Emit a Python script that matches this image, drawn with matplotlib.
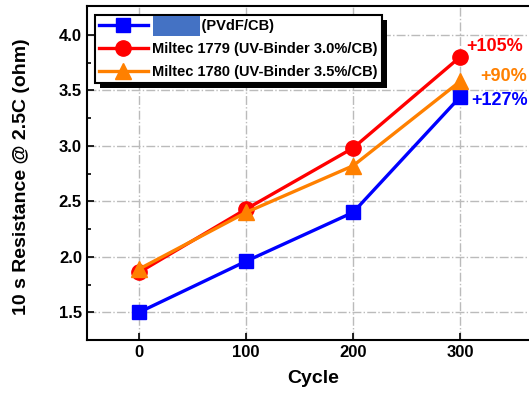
import matplotlib
matplotlib.use("Agg")
import matplotlib.pyplot as plt
from matplotlib.patches import Rectangle

plt.rcParams["font.family"] = ["Liberation Sans", "DejaVu Sans"]
plt.rcParams["font.weight"] = "bold"

cycles = [0, 100, 200, 300]
pvdf = [1.50, 1.96, 2.40, 3.44]
miltec_1779 = [1.86, 2.43, 2.98, 3.80]
miltec_1780 = [1.89, 2.40, 2.82, 3.58]

labels = ["(PVdF/CB)",
          "Miltec 1779 (UV-Binder 3.0%/CB)",
          "Miltec 1780 (UV-Binder 3.5%/CB)"]
increase = ["+127%", "+105%", "+90%"]

blue = "#0000FF"
red = "#FF0000"
orange = "#FF8000"

fig = plt.figure(figsize=(5.29, 3.94), dpi=100)
ax = fig.add_axes([0.164, 0.137, 0.908, 0.848])

ax.plot(cycles, pvdf, color=blue, marker="s", ms=10, lw=2.4,
        label="            " + labels[0])
ax.plot(cycles, miltec_1779, color=red, marker="o", ms=11, lw=2.4, label=labels[1])
ax.plot(cycles, miltec_1780, color=orange, marker="^", ms=11, lw=2.4, label=labels[2])

ax.text(306, 3.89, increase[1], color=red, fontsize=13, fontweight="bold", va="center")
ax.text(319, 3.62, increase[2], color=orange, fontsize=13, fontweight="bold", va="center")
ax.text(310, 3.41, increase[0], color=blue, fontsize=13, fontweight="bold", va="center")

ax.set_xlim(-49, 400)
ax.set_ylim(1.25, 4.26)
ax.set_xticks(cycles)
ax.set_yticks([1.5, 2.0, 2.5, 3.0, 3.5, 4.0])
ax.set_yticks([1.75, 2.25, 2.75, 3.25, 3.75], minor=True)
ax.tick_params(axis="both", which="both", direction="in", labelsize=12, width=1.2)
ax.tick_params(which="major", length=5)
ax.tick_params(which="minor", length=3)
for lab in ax.get_xticklabels() + ax.get_yticklabels():
    lab.set_fontweight("bold")

ax.grid(True, linestyle="-.", color="#BBBBBB", lw=1)
for s in ax.spines.values():
    s.set_linewidth(1.5)

ax.set_xlabel("Cycle", fontsize=14, fontweight="bold")
ax.xaxis.set_label_coords((313 - 87) / 480, -0.09)
ax.set_ylabel("10 s Resistance @ 2.5C (ohm)", fontsize=14, fontweight="bold")
ax.yaxis.set_label_coords(-0.118, 0.49)

leg = ax.legend(loc="upper left", bbox_to_anchor=(95 / 529, 1 - 15 / 394),
                bbox_transform=fig.transFigure, borderaxespad=0, fancybox=False,
                framealpha=1, edgecolor="black", fontsize=10.5, handlelength=3.3,
                labelspacing=0.6, borderpad=0.3, handletextpad=0.3)
leg.get_frame().set_linewidth(1.5)
leg.set_zorder(5)
for t in leg.get_texts():
    t.set_fontweight("bold")

# black drop shadow behind legend and redaction box over the first label
fig.canvas.draw()
bb = leg.get_window_extent()
ax.add_patch(Rectangle((bb.x0 + 5, bb.y0 - 5), bb.width, bb.height,
                       transform=None, facecolor="black", edgecolor="none",
                       zorder=4.5, clip_on=False))
tb = leg.get_texts()[0].get_window_extent()
probe = fig.text(0, 0, labels[0], fontsize=10.5, fontweight="bold")
pw = probe.get_window_extent().width
probe.remove()
ax.add_patch(Rectangle((tb.x0 + 1, tb.y0 - 3), tb.width - pw - 2, tb.height + 6,
                       transform=None, facecolor="#4472C4", edgecolor="none",
                       zorder=6, clip_on=False))

fig.savefig("out.png", dpi=100)
